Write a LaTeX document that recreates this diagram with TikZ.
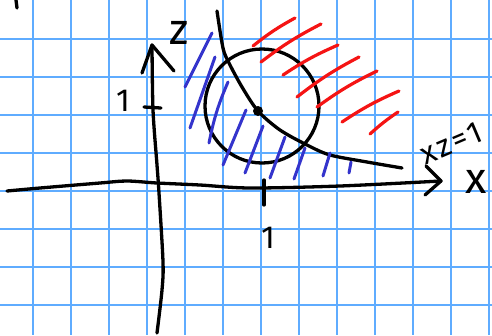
\documentclass[tikz,border=0pt]{standalone}
\usepackage{fontspec}
\setmainfont{Fira Sans}
\newfontfamily\handfont[LetterSpace=9]{Fira Sans}
\definecolor{gridblue}{RGB}{95,172,255}
\definecolor{hatchblue}{RGB}{52,52,204}
\definecolor{hatchred}{RGB}{245,20,20}

\begin{document}
\begin{tikzpicture}[
        x=1bp, y=-1bp,
        gridline/.style={draw=gridblue, line width=1.7bp},
        ink/.style={draw=black, line width=3.3bp, line cap=round, line join=round},
        bluehatch/.style={draw=hatchblue, line width=3bp, line cap=round},
        redhatch/.style={draw=hatchred, line width=3.2bp, line cap=round},
        lab/.style={font=\fontsize{32}{32}\selectfont, inner sep=0pt},
        axislab/.style={font=\fontsize{44}{44}\selectfont, inner sep=0pt}
    ]
        \useasboundingbox (0,0) rectangle (492,335);

        % grid paper
        \foreach \gx in {33,71,...,489}
            \draw[gridline] (\gx,0) -- (\gx,335);
        \foreach \gy in {39,77,...,305}
            \draw[gridline] (0,\gy) -- (492,\gy);

        \coordinate (xtip) at (441,181);
        \coordinate (ztip) at (152,45);
        \coordinate (dot) at (258,111);

        % axes
        \draw[ink] plot[smooth] coordinates {(7,191) (40,188) (100,183) (127,181) (157,183)
            (200,185) (250,188) (340,186) (xtip)};
        \draw[ink] (426,166) -- (xtip) -- (425,195);
        \draw[ink] plot[smooth] coordinates {(157,333) (162,290) (163,262) (159,193)
            (157,165) (153,110) (ztip)};
        \draw[ink] (142,73) -- (ztip) -- (174,71);
        \draw[ink] (144,107) -- (161,108);
        \draw[ink] (264,180) -- (264,205);
        \draw[ink] (16,0) -- (17,8);

        % xz=1 and the circle
        \draw[ink] plot[smooth] coordinates {(217,11) (223,48) (229,63) (242,87) (dot)
            (280,130) (307,145) (330,155) (367,162) (402,168)};
        \draw[ink] (262,106) circle[radius=57];
        \fill (dot) circle[radius=5];

        % hatching
        \draw[bluehatch] (185,87) -- (212,33);
        \draw[bluehatch] (190,128) -- (215,57);
        \draw[bluehatch] (209,143) to[bend left=6] (228,82);
        \draw[bluehatch] (223,165) -- (246,110);
        \draw[bluehatch] (245,173) -- (263,126);
        \draw[bluehatch] (270,178) -- (285,137);
        \draw[bluehatch] (294,179) -- (305,148);
        \draw[bluehatch] (323,176) -- (330,153);
        \draw[bluehatch] (349,173) -- (351,162);

        \draw[redhatch] (253,46) to[bend left=5] (295,18);
        \draw[redhatch] (261,62) to[bend left=5] (321,24);
        \draw[redhatch] (283,75) to[bend left=5] (338,45);
        \draw[redhatch] (297,97) to[bend left=5] (359,57);
        \draw[redhatch] (317,107) to[bend left=5] (377,71);
        \draw[redhatch] (342,122) to[bend left=5] (399,91);
        \draw[redhatch] (370,134) to[bend left=4] (398,112);

        % labels
        \node[axislab] (zlab) at (179,33) {z};
        \node[axislab] (xlab) at (476,182) {x};
        \node[lab] (zone) at (123,101) {1};
        \node[lab] (xone) at (268,238) {1};
        \node[lab, font=\handfont\fontsize{31}{31}\selectfont, rotate=23] (curvelab) at (451,143) {xz=1};
\end{tikzpicture}
\end{document}
